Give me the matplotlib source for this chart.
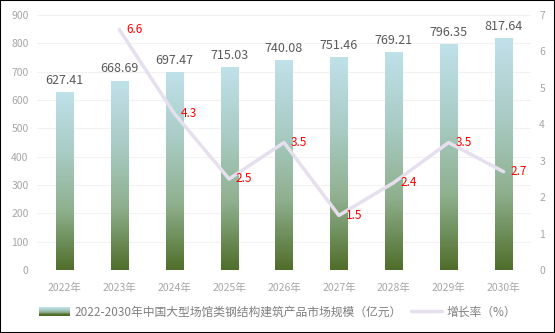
import matplotlib
matplotlib.use("Agg")
import matplotlib.pyplot as plt
import numpy as np
from matplotlib.colors import LinearSegmentedColormap
from matplotlib.patches import Rectangle
from matplotlib.legend_handler import HandlerBase

plt.rcParams['font.family'] = ['Noto Sans CJK SC', 'DejaVu Sans']

years = ['2022年', '2023年', '2024年', '2025年', '2026年', '2027年', '2028年', '2029年', '2030年']
market = [627.41, 668.69, 697.47, 715.03, 740.08, 751.46, 769.21, 796.35, 817.64]
growth = [None, 6.6, 4.3, 2.5, 3.5, 1.5, 2.4, 3.5, 2.7]
bar_label = '2022-2030年中国大型场馆类钢结构建筑产品市场规模（亿元）'
line_label = '增长率（%）'

fig = plt.figure(figsize=(5.55, 3.33), dpi=100)
ax = fig.add_axes([0.0667, 0.189, 0.89, 0.766])
ax2 = ax.twinx()

cmap = LinearSegmentedColormap.from_list('g', ['#4f6e2a', '#8fb08e', '#a9ccc6', '#bfe1e9'])
x = np.arange(len(years))
bars = ax.bar(x, market, width=0.31, color='none', zorder=2)
grad = np.linspace(0, 1, 256).reshape(-1, 1)
for b in bars:
    bx, by, bw, bh = b.get_x(), b.get_y(), b.get_width(), b.get_height()
    im = ax.imshow(grad, cmap=cmap, origin='lower', aspect='auto',
                   extent=[bx, bx + bw, by, by + bh], zorder=2)
    im.set_clip_path(b)
for xi, v in zip(x, market):
    ax.text(xi, v + 18, f'{v:.2f}', ha='center', va='bottom', fontsize=9, color='#595959')

ax.set_xlim(-0.5, len(years) - 0.5)
ax.set_ylim(0, 900)
ax.set_yticks(range(0, 901, 100))
ax.grid(axis='y', color='#f2f2f2', linewidth=0.8, zorder=0)
ax.set_axisbelow(True)
ax.set_xticks(x)
ax.set_xticklabels(years)
for s in ax.spines.values():
    s.set_visible(False)
for s in ax2.spines.values():
    s.set_visible(False)
ax.tick_params(axis='both', length=0, labelsize=7.5, colors='#a6a6a6', pad=6)
ax.tick_params(axis='x', pad=9)

gx = [xi for xi, g in zip(x, growth) if g is not None]
gy = [g for g in growth if g is not None]
line, = ax2.plot(gx, gy, color='#e6e0ee', linewidth=2.5, solid_capstyle='round', zorder=3)
for xi, g in zip(gx, gy):
    ax2.text(xi + 0.12, g, f'{g}', ha='left', va='center', fontsize=8.5, color='#ff0000')
ax2.set_ylim(0, 7)
ax2.set_yticks(range(0, 8))
ax2.tick_params(axis='y', length=0, labelsize=7.5, colors='#a6a6a6', pad=6)
ax.set_zorder(1)
ax2.set_zorder(2)
ax2.patch.set_visible(False)


class GradHandler(HandlerBase):
    def create_artists(self, legend, orig, xd, yd, w, h, fs, trans):
        arts = []
        n = 8
        cols = cmap(np.linspace(1, 0, n))
        for i in range(n):
            arts.append(Rectangle((xd, yd + h - (i + 1) * h / n), w, h / n, facecolor=cols[i],
                                  edgecolor='none', transform=trans))
        return arts


proxy = Rectangle((0, 0), 1, 1)
leg = fig.legend([proxy, line], [bar_label, line_label], loc='center', bbox_to_anchor=(0.5, 0.063),
                 ncol=2, frameon=False, fontsize=8.5, handlelength=2.6, columnspacing=0.8,
                 handletextpad=0.4, handler_map={Rectangle: GradHandler()})
for t in leg.get_texts():
    t.set_color('#7f7f7f')

fig.patches.append(Rectangle((0, 0), 1, 1, transform=fig.transFigure, fill=False,
                             edgecolor='black', linewidth=1.5))
fig.savefig('out.png', dpi=100)
